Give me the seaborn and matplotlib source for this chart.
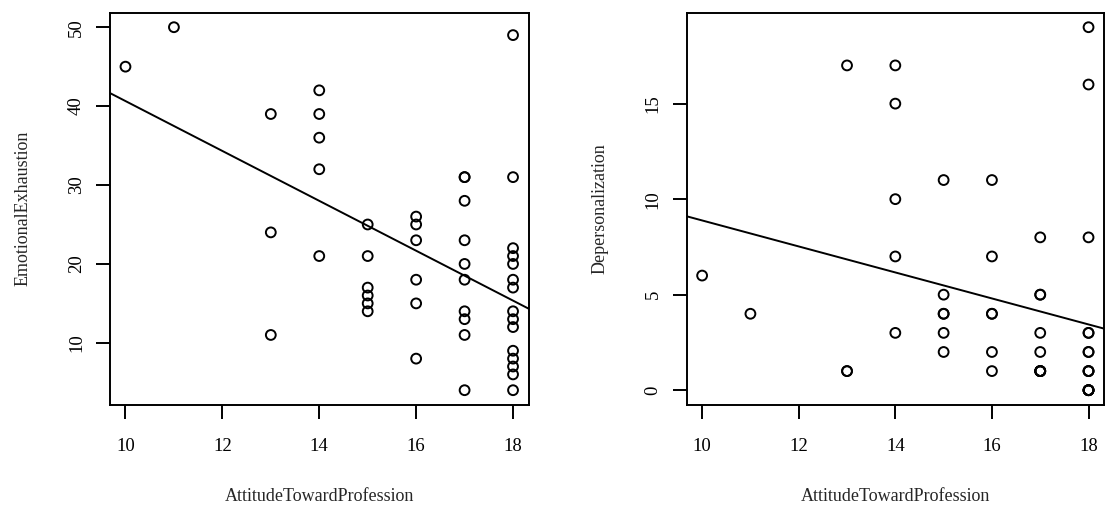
import numpy as np
import pandas as pd
import matplotlib
matplotlib.use("Agg")
import matplotlib.pyplot as plt
import seaborn as sns

# Data
attitude = [10, 11, 13, 13, 13, 14, 14, 14, 14, 14,
            15, 15, 15, 15, 15, 15,
            16, 16, 16, 16, 16, 16,
            17, 17, 17, 17, 17, 17, 17, 17, 17, 17,
            18, 18, 18, 18, 18, 18, 18, 18, 18, 18, 18, 18, 18, 18, 18]
emotional_exhaustion = [45, 50, 39, 24, 11, 42, 39, 36, 32, 21,
                        25, 21, 17, 16, 15, 14,
                        26, 25, 23, 18, 15, 8,
                        31, 31, 28, 23, 20, 18, 14, 13, 11, 4,
                        49, 31, 22, 21, 20, 18, 17, 14, 13, 12, 9, 8, 7, 6, 4]
depersonalization = [6, 4, 17, 1, 1, 17, 15, 10, 7, 3,
                     11, 5, 4, 4, 3, 2,
                     11, 7, 4, 4, 2, 1,
                     8, 5, 5, 3, 2, 1, 1, 1, 1, 1,
                     19, 16, 8, 3, 3, 2, 2, 1, 1, 1, 0, 0, 0, 0, 0]

x_ticks = [10, 12, 14, 16, 18]
y_ticks_left = [10, 20, 30, 40, 50]
y_ticks_right = [0, 5, 10, 15]

df = pd.DataFrame({"AttitudeTowardProfession": attitude,
                   "EmotionalExhaustion": emotional_exhaustion,
                   "Depersonalization": depersonalization})

sns.set_style("white")
plt.rcParams["font.family"] = ["Liberation Serif", "DejaVu Serif"]

fig = plt.figure(figsize=(11.12, 5.18), dpi=100)
ax1 = fig.add_axes([0.0989, 0.2187, 0.3764, 0.7568])
ax2 = fig.add_axes([0.6175, 0.2187, 0.3753, 0.7568])


def r_range(vals):
    lo, hi = min(vals), max(vals)
    r = hi - lo
    return lo - 0.04 * r, hi + 0.04 * r


for ax, ycol, yticks in [(ax1, "EmotionalExhaustion", y_ticks_left),
                         (ax2, "Depersonalization", y_ticks_right)]:
    ax.set_xlim(*r_range(df["AttitudeTowardProfession"]))
    ax.set_ylim(*r_range(df[ycol]))
    sns.scatterplot(data=df, x="AttitudeTowardProfession", y=ycol, ax=ax,
                    marker="o", s=50, facecolor="none", edgecolor="black",
                    linewidth=1.4)
    sns.regplot(data=df, x="AttitudeTowardProfession", y=ycol, ax=ax,
                scatter=False, ci=None, truncate=False,
                line_kws={"color": "black", "linewidth": 1.4})
    ax.set_xlim(*r_range(df["AttitudeTowardProfession"]))
    ax.set_ylim(*r_range(df[ycol]))
    ax.set_xticks(x_ticks)
    ax.set_yticks(yticks)
    ax.tick_params(axis="both", direction="out", length=10, width=1.4,
                   labelsize=13.5, color="black", labelcolor="black",
                   bottom=True, left=True)
    ax.tick_params(axis="x", pad=14)
    ax.tick_params(axis="y", pad=8)
    for lab in ax.get_yticklabels():
        lab.set_rotation(90)
        lab.set_verticalalignment("center")
    for sp in ax.spines.values():
        sp.set_visible(True)
        sp.set_color("black")
        sp.set_linewidth(1.4)
    ax.set_xlabel("AttitudeTowardProfession", fontsize=13, labelpad=24)
    ax.set_ylabel(ycol, fontsize=13, labelpad=26)

fig.savefig("out.png", dpi=100, facecolor="white")
